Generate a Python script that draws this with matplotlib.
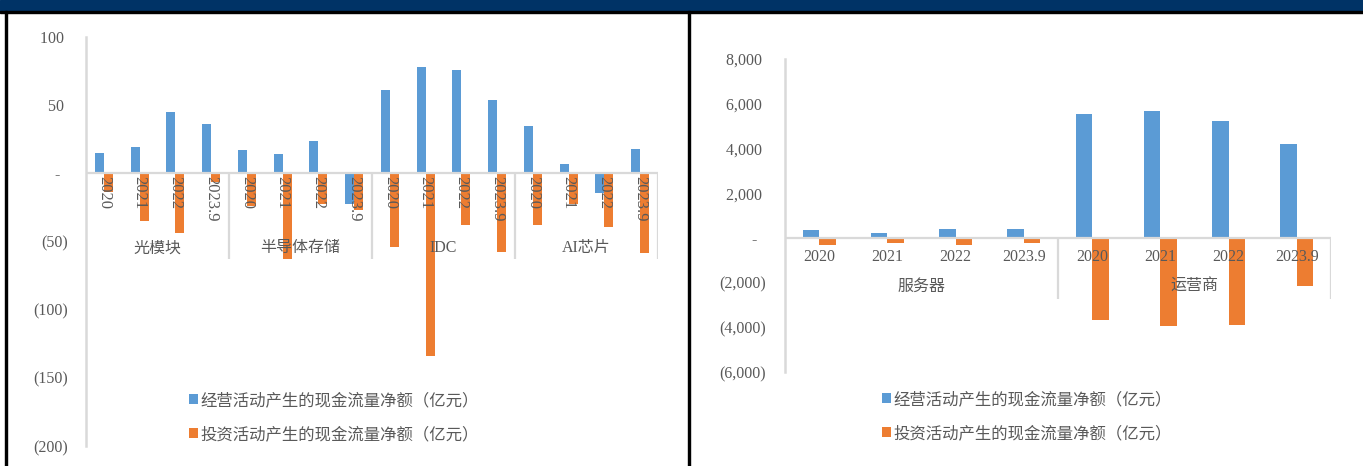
import matplotlib
matplotlib.use("Agg")
import matplotlib.pyplot as plt
from matplotlib.patches import Rectangle
from matplotlib.ticker import FuncFormatter

plt.rcParams['font.family'] = ['Liberation Serif', 'Noto Sans CJK SC', 'DejaVu Sans']

# ---- data ----
years = ['2020', '2021', '2022', '2023.9']
left_groups = ['光模块', '半导体存储', 'IDC', 'AI芯片']
left_oper = [15, 19.5, 45, 36.5,
             17, 14.5, 23.5, -22.5,
             61, 78, 76, 54,
             35, 6.5, -14.5, 17.5]
left_inv = [-14, -35, -44, -6,
            -24, -63, -22.5, -27,
            -54, -134, -38, -57.5,
            -38, -22.5, -39.5, -58.5]

right_groups = ['服务器', '运营商']
right_oper = [345, 225, 415, 400,
              5520, 5680, 5235, 4205]
right_inv = [-300, -210, -325, -210,
             -3680, -3935, -3905, -2160]

legend_labels = ['经营活动产生的现金流量净额（亿元）', '投资活动产生的现金流量净额（亿元）']

BLUE = '#5B9BD5'
ORANGE = '#ED7D31'
GRID = '#D9D9D9'
TXT = '#595959'

W, H = 1363, 466
fig = plt.figure(figsize=(W / 100, H / 100), dpi=100)


def px_axes(x0, x1, ytop, ybot):
    return fig.add_axes([x0 / W, (H - ybot) / H, (x1 - x0) / W, (ybot - ytop) / H])


# excel style: positives keep a trailing space where ")" would be
def fmt_left(v, pos):
    if abs(v) < 1e-9:
        return '-  '
    return f'({abs(v):.0f})' if v < 0 else f'{v:.0f} '


def fmt_right(v, pos):
    if abs(v) < 1e-9:
        return '-  '
    return f'({abs(v):,.0f})' if v < 0 else f'{v:,.0f} '


def draw(ax, groups, oper, inv, ylim, step, fmt, pad, rotate, year_off, year_fs,
         group_off, sep_depth, leg_xy, w):
    n = len(oper)
    xs = [i + 0.5 for i in range(n)]
    b1 = ax.bar([x - w / 2 for x in xs], oper, w, color=BLUE, label=legend_labels[0], zorder=2)
    b2 = ax.bar([x + w / 2 for x in xs], inv, w, color=ORANGE, label=legend_labels[1], zorder=2)
    ax.set_xlim(0, n)
    ax.set_ylim(*ylim)
    ax.set_yticks(range(ylim[0], ylim[1] + 1, step))
    ax.yaxis.set_major_formatter(FuncFormatter(fmt))
    ax.tick_params(axis='y', length=0, pad=pad, labelsize=11.5, labelcolor=TXT)
    ax.set_xticks([])
    for s in ['top', 'right', 'bottom']:
        ax.spines[s].set_visible(False)
    ax.spines['left'].set_color(GRID)
    ax.spines['left'].set_linewidth(1.8)
    ax.axhline(0, color=GRID, lw=1.6, zorder=3)
    ng = len(groups)
    per = n // ng
    ax.vlines([per * (g + 1) for g in range(ng)], sep_depth, 0, color=GRID, lw=1.6, zorder=3)
    for i, x in enumerate(xs):
        lab = years[i % len(years)]
        if rotate:
            ax.annotate(lab, (x, 0), xytext=(0, -year_off), textcoords='offset pixels',
                        rotation=-90, ha='center', va='top', fontsize=year_fs, color=TXT, zorder=4)
        else:
            ax.annotate(lab, (x, 0), xytext=(0, -year_off), textcoords='offset pixels',
                        ha='center', va='center', fontsize=year_fs, color=TXT, zorder=4)
    for g, name in enumerate(groups):
        ax.annotate(name, (per * g + per / 2, 0), xytext=(0, -group_off),
                    textcoords='offset pixels', ha='center', va='center',
                    fontsize=11.5, color=TXT, zorder=4)
    ax.patch.set_alpha(0)
    leg = ax.legend(handles=[b1, b2], loc='center left',
                    bbox_to_anchor=(leg_xy[0] / W, (H - leg_xy[1]) / H),
                    bbox_transform=fig.transFigure, frameon=False, fontsize=11.8,
                    handlelength=0.55, handleheight=0.55, handletextpad=0.15,
                    labelspacing=1.1, borderpad=0, borderaxespad=0)
    for t in leg.get_texts():
        t.set_color(TXT)


axL = px_axes(86, 658, 37, 446)
draw(axL, left_groups, left_oper, left_inv, (-200, 100), 50, fmt_left, 13, True,
     3, 12, 75, -63, (189, 418), 0.25)

axR = px_axes(785, 1331, 59, 372)
draw(axR, right_groups, right_oper, right_inv, (-6000, 8000), 2000, fmt_right, 14, False,
     19, 11.5, 49, -2730, (882, 417), 0.24)

# header band and frame lines
fig.patches.append(Rectangle((0, (H - 11) / H), 1, 11 / H, transform=fig.transFigure,
                             color='#003366', zorder=0))
fig.patches.append(Rectangle((0, (H - 13) / H), 1, 2 / H, transform=fig.transFigure,
                             color='black', zorder=0))
fig.patches.append(Rectangle((5 / W, 0), 2 / W, (H - 11) / H, transform=fig.transFigure,
                             color='black', zorder=0))
fig.patches.append(Rectangle((688 / W, 0), 2 / W, (H - 11) / H, transform=fig.transFigure,
                             color='black', zorder=0))

fig.savefig('out.png', dpi=100)
